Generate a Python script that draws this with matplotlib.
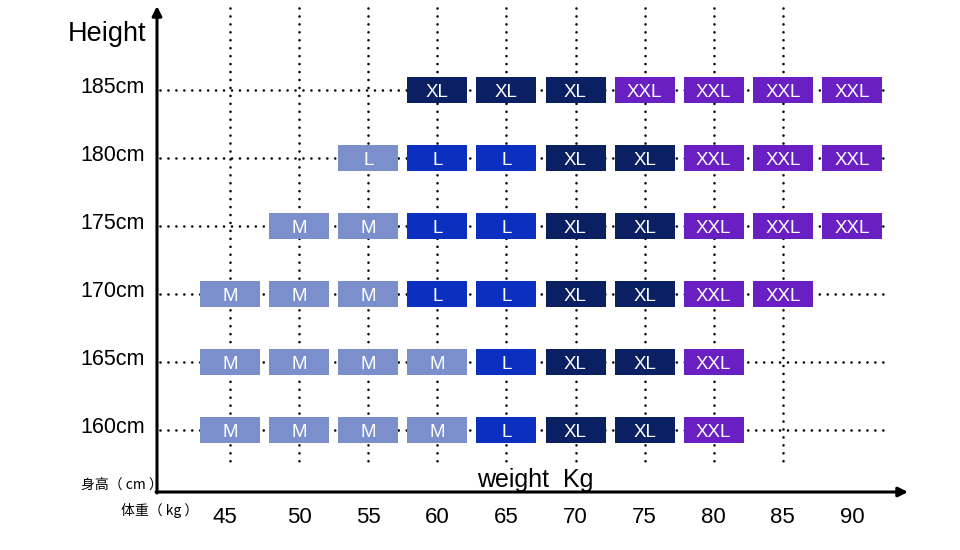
import matplotlib
matplotlib.use("Agg")
import matplotlib.pyplot as plt

plt.rcParams['font.family'] = ['Liberation Sans', 'Noto Sans CJK SC', 'DejaVu Sans']

# ---- data ----
weights = [45, 50, 55, 60, 65, 70, 75, 80, 85, 90]
heights = [160, 165, 170, 175, 180, 185]
height_labels = ["160cm", "165cm", "170cm", "175cm", "180cm", "185cm"]
weight_labels = ["45", "50", "55", "60", "65", "70", "75", "80", "85", "90"]
sizes_160 = ["M", "M", "M", "M", "L", "XL", "XL", "XXL", "", ""]
sizes_165 = ["M", "M", "M", "M", "L", "XL", "XL", "XXL", "", ""]
sizes_170 = ["M", "M", "M", "L", "L", "XL", "XL", "XXL", "XXL", ""]
sizes_175 = ["", "M", "M", "L", "L", "XL", "XL", "XXL", "XXL", "XXL"]
sizes_180 = ["", "", "L", "L", "L", "XL", "XL", "XXL", "XXL", "XXL"]
sizes_185 = ["", "", "", "XL", "XL", "XL", "XXL", "XXL", "XXL", "XXL"]
size_rows = [sizes_160, sizes_165, sizes_170, sizes_175, sizes_180, sizes_185]
light_cells = [(180, 55)]  # cells drawn in the pale tone although labelled L
grid_weights = [45, 50, 55, 60, 65, 70, 75, 80, 85]

# ---- styles ----
tone = {"M": "#7b8fcc", "L": "#0b2fbf", "XL": "#0b1f63", "XXL": "#6a1fc2"}
light = "#7b8fcc"

W, H = 960, 550
fig = plt.figure(figsize=(W / 100, H / 100), dpi=100)
ax = fig.add_axes([0, 0, 1, 1])
# pixel mapping: x_px = 230 + (w-45)*13.82 ; y_px = 430 - (h-160)*13.6
sx, sy = 13.82, 13.6
ax.set_xlim(45 - 230 / sx, 45 + (W - 230) / sx)
ax.set_ylim(160 - (H - 430) / sy, 160 + 430 / sy)
ax.axis("off")

def px_x(p):
    return 45 + (p - 230) / sx

def px_y(p):
    return 160 + (430 - p) / sy

dot = dict(color="black", lw=1.9, linestyle=(0, (0.01, 3.0)), dash_capstyle="round", zorder=1)
# horizontal dotted guides
for h in heights:
    ax.plot([px_x(160), px_x(890)], [h, h], **dot)
# vertical dotted guides
for w in grid_weights:
    ax.plot([w, w], [px_y(8), px_y(465)], **dot)

# boxes
bw, bh = 60 / sx, 26 / sy
for h, row in zip(heights, size_rows):
    for w, s in zip(weights, row):
        if not s:
            continue
        c = light if (h, w) in light_cells else tone[s]
        ax.add_patch(plt.Rectangle((w - bw / 2, h - bh / 2), bw, bh,
                                   facecolor=c, edgecolor="none", zorder=3))
        ax.text(w, h - 0.15, s, color="white", fontsize=13.5, ha="center", va="center", zorder=4)

# axes with arrows
ax.annotate("", xy=(px_x(157), px_y(6)), xytext=(px_x(157), px_y(493)),
            arrowprops=dict(arrowstyle="-|>", lw=2.2, color="black",
                            mutation_scale=14, shrinkA=0, shrinkB=0), zorder=5)
ax.annotate("", xy=(px_x(908), px_y(492)), xytext=(px_x(156), px_y(492)),
            arrowprops=dict(arrowstyle="-|>", lw=2.2, color="black",
                            mutation_scale=14, shrinkA=0, shrinkB=0), zorder=5)

# tick labels
for w, lab in zip(weights, weight_labels):
    ax.text(w - 0.35 if w == 45 else w, px_y(517), lab, fontsize=16, ha="center", va="center")
for h, lab in zip(heights, height_labels):
    ax.text(px_x(145), h + 0.2, lab, fontsize=15.5, ha="right", va="center")

ax.text(px_x(68), px_y(34), "Height", fontsize=19.5, ha="left", va="center")
ax.text(px_x(535), px_y(480), "weight  Kg", fontsize=18, ha="center", va="center")
ax.text(px_x(81), px_y(486), "身高（ cm ）", fontsize=10, ha="left", va="center",
        family=["Noto Sans CJK SC", "DejaVu Sans"])
ax.text(px_x(121), px_y(510), "体重（ kg ）", fontsize=10, ha="left", va="center",
        family=["Noto Sans CJK SC", "DejaVu Sans"])

fig.savefig("out.png", dpi=100)
